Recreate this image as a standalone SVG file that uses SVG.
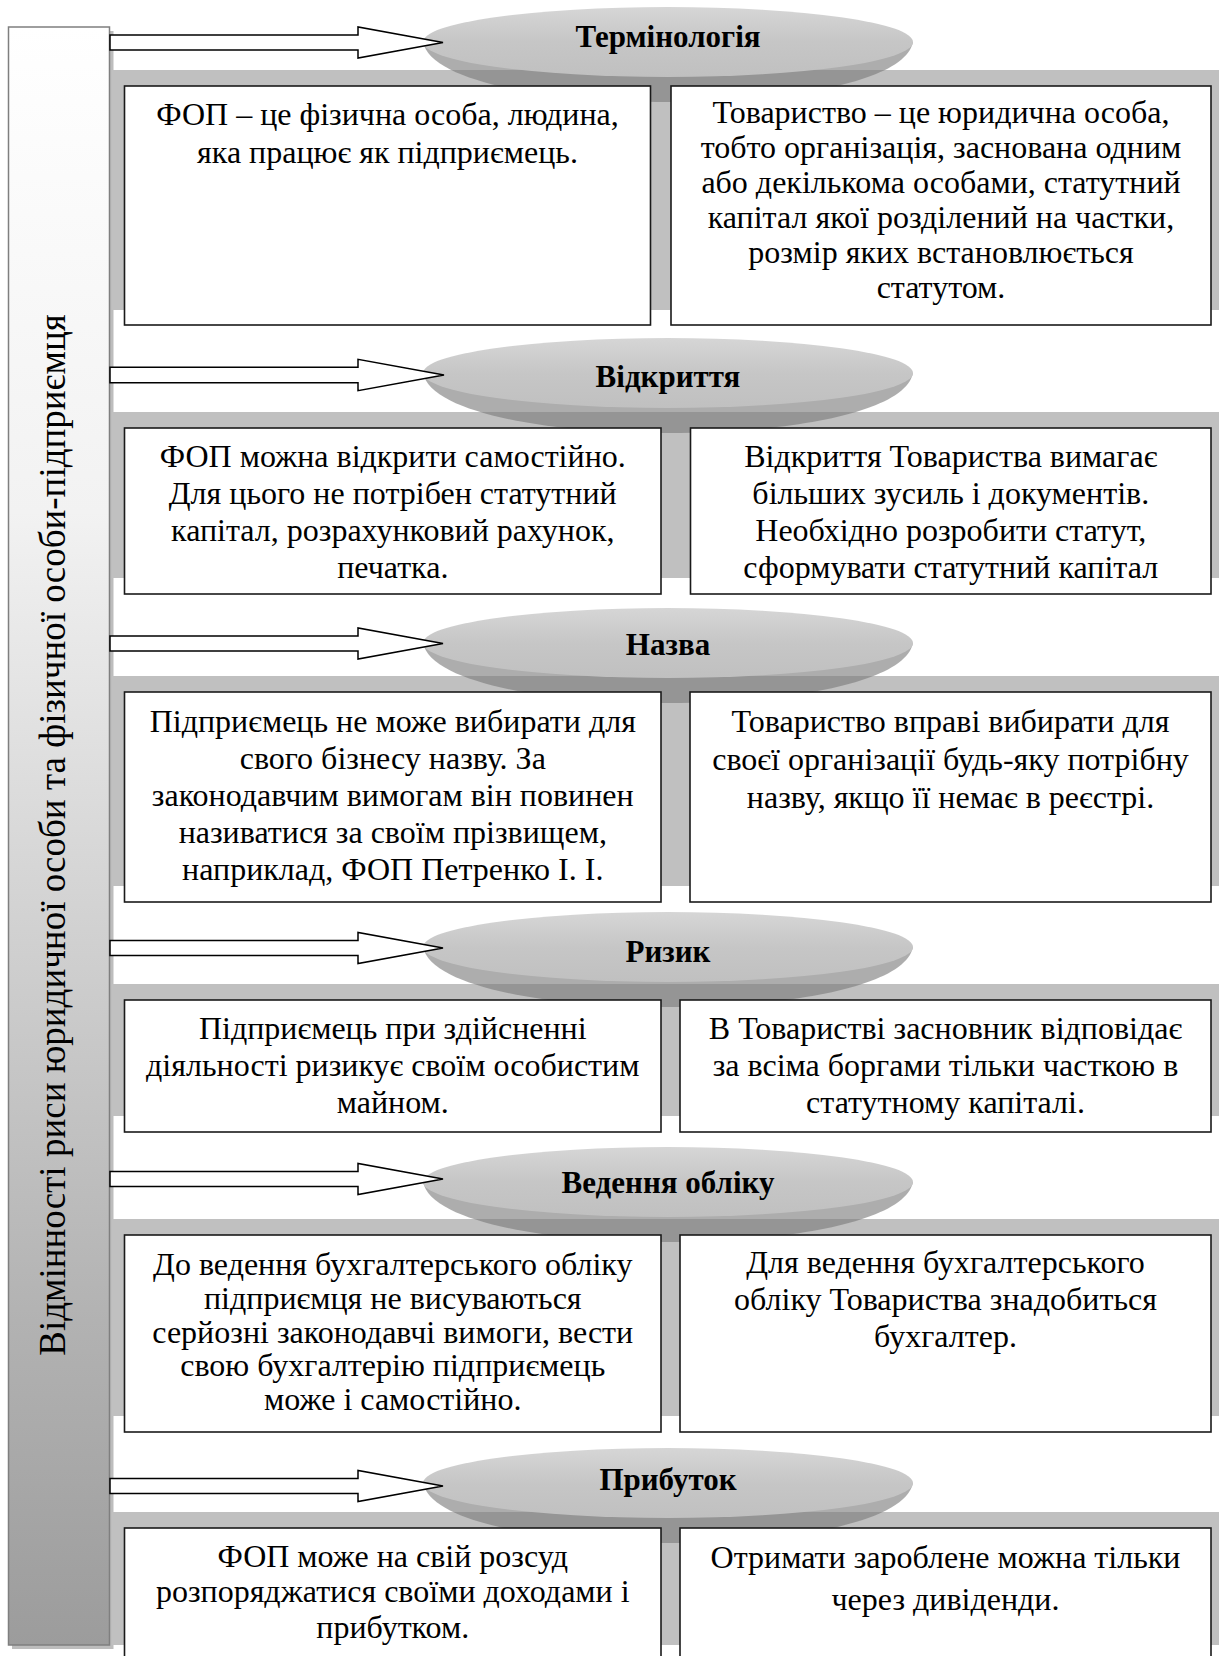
<svg xmlns="http://www.w3.org/2000/svg" width="1227" height="1656" viewBox="0 0 1227 1656">
<defs>
<style>
.band{fill:#c0c0c0}
.box{fill:#fff;stroke:#1a1a1a;stroke-width:1.6}
.arrow{fill:#fff;stroke:#000;stroke-width:1.5;stroke-linejoin:miter}
.rim{fill:#7a7a7a;fill-opacity:0.62}
.face{fill:url(#faceGrad)}
.t{font-family:"Liberation Serif","Times New Roman",serif;font-size:32px;fill:#000;text-anchor:middle}
.h{font-family:"Liberation Serif","Times New Roman",serif;font-size:31px;font-weight:bold;fill:#000;text-anchor:middle}
.v{font-family:"Liberation Serif","Times New Roman",serif;font-size:37px;fill:#000;text-anchor:middle}
</style>
<linearGradient id="faceGrad" x1="0" y1="0" x2="0" y2="1">
<stop offset="0" stop-color="#d6d6d6"/>
<stop offset="0.5" stop-color="#c6c6c6"/>
<stop offset="1" stop-color="#c0c0c0"/>
</linearGradient>
<linearGradient id="barGrad" x1="0" y1="0" x2="0" y2="1">
<stop offset="0" stop-color="#ffffff"/>
<stop offset="0.3" stop-color="#f2f2f2"/>
<stop offset="0.55" stop-color="#d2d2d2"/>
<stop offset="0.8" stop-color="#b2b2b2"/>
<stop offset="1" stop-color="#9c9c9c"/>
</linearGradient>
<path id="rimShape" d="M423,0 C431,40 548,60 668,60 C788,60 905,40 913,0 Z"/>
<ellipse id="faceShape" cx="668" cy="0" rx="245" ry="35"/>
</defs>

<g id="bar">
<rect x="12" y="31" width="101.5" height="1618" fill="#bdbdbd"/>
<rect x="8.5" y="27" width="101" height="1618" fill="url(#barGrad)" stroke="#7f7f7f" stroke-width="1.5"/>
<text class="v" transform="translate(65,835) rotate(-90)">Відмінності риси юридичної особи та фізичної особи-підприємця</text>
</g>

<g id="bands">
<rect class="band" x="112" y="70" width="1107" height="240"/>
<rect class="band" x="112" y="412" width="1107" height="166"/>
<rect class="band" x="112" y="676" width="1107" height="210"/>
<rect class="band" x="112" y="984" width="1107" height="132"/>
<rect class="band" x="112" y="1219" width="1107" height="197"/>
<rect class="band" x="112" y="1512" width="1107" height="133"/>
</g>

<g id="header-terminology">
<use href="#rimShape" class="rim" y="42"/>
<use href="#faceShape" class="face" y="42"/>
<text class="h" x="668" y="47">Термінологія</text>
</g>
<g id="header-opening">
<use href="#rimShape" class="rim" y="373"/>
<use href="#faceShape" class="face" y="373"/>
<text class="h" x="668" y="387">Відкриття</text>
</g>
<g id="header-name">
<use href="#rimShape" class="rim" y="643"/>
<use href="#faceShape" class="face" y="643"/>
<text class="h" x="668" y="655">Назва</text>
</g>
<g id="header-risk">
<use href="#rimShape" class="rim" y="947"/>
<use href="#faceShape" class="face" y="947"/>
<text class="h" x="668" y="962">Ризик</text>
</g>
<g id="header-accounting">
<use href="#rimShape" class="rim" y="1182"/>
<use href="#faceShape" class="face" y="1182"/>
<text class="h" x="668" y="1193">Ведення обліку</text>
</g>
<g id="header-profit">
<use href="#rimShape" class="rim" y="1483"/>
<use href="#faceShape" class="face" y="1483"/>
<text class="h" x="668" y="1490">Прибуток</text>
</g>

<g id="connectors">
<polygon class="arrow" points="110,35 358,35 358,27 443,42.5 358,58 358,50 110,50"/>
<polygon class="arrow" points="110,367.3 358,367.3 358,359.3 444,375 358,390.7 358,382.7 110,382.7"/>
<polygon class="arrow" points="110,636 358,636 358,628 443,643.5 358,659 358,651 110,651"/>
<polygon class="arrow" points="110,940.5 358,940.5 358,932.5 443,948 358,963.5 358,955.5 110,955.5"/>
<polygon class="arrow" points="110,1171.5 358,1171.5 358,1163.5 443,1179 358,1194.5 358,1186.5 110,1186.5"/>
<polygon class="arrow" points="110,1478.5 358,1478.5 358,1470.5 443,1486 358,1501.5 358,1493.5 110,1493.5"/>
</g>

<g id="fop-terminology">
<rect class="box" x="124.5" y="86" width="526" height="239"/>
<text class="t" x="387.5" y="125">ФОП – це фізична особа, людина,</text>
<text class="t" x="387.5" y="163">яка працює як підприємець.</text>
</g>
<g id="company-terminology">
<rect class="box" x="671" y="86" width="540" height="239"/>
<text class="t" x="941" y="123">Товариство – це юридична особа,</text>
<text class="t" x="941" y="158">тобто організація, заснована одним</text>
<text class="t" x="941" y="193">або декількома особами, статутний</text>
<text class="t" x="941" y="228">капітал якої розділений на частки,</text>
<text class="t" x="941" y="263">розмір яких встановлюється</text>
<text class="t" x="941" y="298">статутом.</text>
</g>

<g id="fop-opening">
<rect class="box" x="124.5" y="428" width="536.5" height="166"/>
<text class="t" x="392.75" y="467">ФОП можна відкрити самостійно.</text>
<text class="t" x="392.75" y="504">Для цього не потрібен статутний</text>
<text class="t" x="392.75" y="541">капітал, розрахунковий рахунок,</text>
<text class="t" x="392.75" y="578">печатка.</text>
</g>
<g id="company-opening">
<rect class="box" x="690.5" y="428" width="520.5" height="166"/>
<text class="t" x="950.75" y="467">Відкриття Товариства вимагає</text>
<text class="t" x="950.75" y="504">більших зусиль і документів.</text>
<text class="t" x="950.75" y="541">Необхідно розробити статут,</text>
<text class="t" x="950.75" y="578">сформувати статутний капітал</text>
</g>

<g id="fop-name">
<rect class="box" x="124.5" y="692" width="536.5" height="210"/>
<text class="t" x="392.75" y="732">Підприємець не може вибирати для</text>
<text class="t" x="392.75" y="769">свого бізнесу назву. За</text>
<text class="t" x="392.75" y="806">законодавчим вимогам він повинен</text>
<text class="t" x="392.75" y="843">називатися за своїм прізвищем,</text>
<text class="t" x="392.75" y="880">наприклад, ФОП Петренко І. І.</text>
</g>
<g id="company-name">
<rect class="box" x="690" y="692" width="521" height="210"/>
<text class="t" x="950.5" y="732">Товариство вправі вибирати для</text>
<text class="t" x="950.5" y="770">своєї організації будь-яку потрібну</text>
<text class="t" x="950.5" y="808">назву, якщо її немає в реєстрі.</text>
</g>

<g id="fop-risk">
<rect class="box" x="124.5" y="1000" width="536.5" height="132"/>
<text class="t" x="392.75" y="1039">Підприємець при здійсненні</text>
<text class="t" x="392.75" y="1076">діяльності ризикує своїм особистим</text>
<text class="t" x="392.75" y="1113">майном.</text>
</g>
<g id="company-risk">
<rect class="box" x="680" y="1000" width="531" height="132"/>
<text class="t" x="945.5" y="1039">В Товаристві засновник відповідає</text>
<text class="t" x="945.5" y="1076">за всіма боргами тільки часткою в</text>
<text class="t" x="945.5" y="1113">статутному капіталі.</text>
</g>

<g id="fop-accounting">
<rect class="box" x="124.5" y="1235" width="536.5" height="197"/>
<text class="t" x="392.75" y="1275">До ведення бухгалтерського обліку</text>
<text class="t" x="392.75" y="1309">підприємця не висуваються</text>
<text class="t" x="392.75" y="1343">серйозні законодавчі вимоги, вести</text>
<text class="t" x="392.75" y="1376">свою бухгалтерію підприємець</text>
<text class="t" x="392.75" y="1410">може і самостійно.</text>
</g>
<g id="company-accounting">
<rect class="box" x="680" y="1235" width="531" height="197"/>
<text class="t" x="945.5" y="1273">Для ведення бухгалтерського</text>
<text class="t" x="945.5" y="1310">обліку Товариства знадобиться</text>
<text class="t" x="945.5" y="1347">бухгалтер.</text>
</g>

<g id="fop-profit">
<rect class="box" x="124.5" y="1528" width="536.5" height="150"/>
<text class="t" x="392.75" y="1567">ФОП може на свій розсуд</text>
<text class="t" x="392.75" y="1602">розпоряджатися своїми доходами і</text>
<text class="t" x="392.75" y="1638">прибутком.</text>
</g>
<g id="company-profit">
<rect class="box" x="680" y="1528" width="531" height="150"/>
<text class="t" x="945.5" y="1568">Отримати зароблене можна тільки</text>
<text class="t" x="945.5" y="1610">через дивіденди.</text>
</g>
</svg>
